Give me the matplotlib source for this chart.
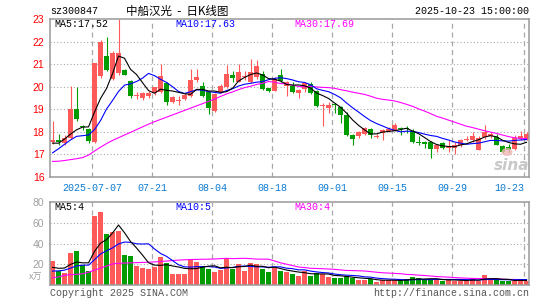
import matplotlib
matplotlib.use("Agg")
import numpy as np
from matplotlib import pyplot as plt
from matplotlib.patches import Ellipse

STOCK = "sz300847"
TITLE = "中船汉光 - 日K线图"
STAMP = "2025-10-23 15:00:00"

# daily candles, 2025-06-26 .. 2025-10-23
opens = [17.55, 17.62, 17.50, 17.75, 19.00, 18.28, 18.13, 17.55, 20.46, 21.34,
         20.34, 20.60, 20.72, 20.26, 19.58, 19.50, 19.57, 19.72, 19.75, 20.16,
         19.34, 19.38, 19.46, 19.60, 20.28, 20.01, 19.76, 18.94, 19.78, 19.97,
         20.53, 20.22, 20.44, 20.19, 20.41, 20.57, 19.93, 19.82, 20.51, 20.04,
         20.04, 19.72, 19.90, 20.12, 19.82, 19.13, 19.04, 19.20, 19.10, 18.76,
         17.88, 17.81, 17.91, 18.13, 17.79, 17.96, 18.06, 18.06, 18.15, 18.15,
         18.06, 17.53, 17.57, 17.54, 17.25, 17.51, 17.28, 17.29, 17.40, 17.62,
         17.62, 17.21, 17.76, 17.81, 17.76, 17.37, 17.32, 17.22, 17.69, 17.69]
highs = [18.50, 17.90, 17.85, 20.05, 20.00, 18.30, 18.15, 21.06, 22.05, 22.20,
         21.60, 23.00, 20.80, 20.30, 19.75, 19.75, 19.80, 20.00, 21.00, 20.20,
         19.60, 19.60, 19.70, 20.78, 20.78, 20.19, 19.80, 19.72, 20.10, 20.97,
         20.70, 21.00, 20.70, 21.22, 21.20, 20.70, 19.95, 20.45, 20.78, 20.25,
         20.20, 19.90, 20.20, 20.20, 19.85, 19.28, 19.31, 19.28, 19.16, 18.87,
         17.90, 18.06, 18.22, 18.15, 17.91, 18.13, 18.20, 18.38, 18.20, 18.25,
         18.13, 17.81, 17.60, 17.60, 17.45, 17.55, 17.62, 17.55, 17.70, 17.80,
         18.00, 17.80, 18.32, 18.00, 17.90, 17.40, 17.47, 17.85, 18.06, 18.00]
lows = [17.45, 17.42, 17.42, 17.70, 18.50, 18.08, 17.50, 17.50, 20.40, 20.70,
        20.30, 20.50, 20.50, 19.50, 19.45, 19.40, 19.50, 19.65, 19.70, 19.20,
        19.28, 19.20, 19.40, 19.55, 20.20, 19.55, 18.79, 18.87, 19.70, 19.95,
        20.20, 20.20, 20.30, 20.15, 20.35, 19.85, 19.75, 19.80, 20.20, 19.57,
        19.70, 19.49, 19.75, 19.68, 19.09, 18.28, 18.84, 18.84, 18.40, 17.80,
        17.43, 17.72, 17.88, 17.72, 17.72, 17.62, 18.00, 18.02, 17.87, 17.93,
        17.50, 17.40, 17.28, 16.84, 17.10, 17.22, 17.10, 17.03, 17.35, 17.60,
        17.55, 17.18, 17.70, 17.75, 17.40, 17.07, 17.06, 17.20, 17.65, 17.65]
closes = [17.62, 17.55, 17.75, 19.00, 18.55, 18.20, 17.58, 21.06, 22.00, 20.75,
          21.50, 21.50, 20.54, 19.57, 19.60, 19.70, 19.72, 19.97, 20.48, 19.34,
          19.56, 19.42, 19.65, 20.31, 20.44, 19.60, 19.04, 19.68, 20.01, 20.56,
          20.37, 20.63, 20.48, 20.66, 20.93, 19.90, 19.83, 20.34, 20.26, 20.19,
          19.75, 19.87, 20.15, 19.72, 19.13, 19.19, 19.19, 19.17, 18.76, 17.84,
          17.69, 17.99, 18.16, 17.87, 17.83, 18.10, 18.13, 18.31, 18.12, 18.12,
          17.54, 17.50, 17.46, 17.25, 17.43, 17.28, 17.35, 17.40, 17.62, 17.69,
          17.81, 17.72, 18.01, 17.91, 17.43, 17.10, 17.18, 17.72, 17.81, 17.91]
# volume, in 10k lots
volumes = [23.0, 13.6, 11.4, 30.7, 32.7, 19.3, 13.6, 66.0, 70.0, 49.5,
           51.0, 52.0, 29.0, 28.0, 18.6, 16.8, 15.8, 17.1, 27.2, 21.5,
           10.8, 10.8, 10.8, 25.0, 22.5, 17.7, 15.5, 13.0, 14.6, 25.7,
           15.5, 20.3, 13.9, 21.0, 20.0, 16.0, 13.0, 17.0, 14.0, 13.0,
           10.8, 8.9, 13.9, 8.9, 12.0, 10.8, 8.2, 7.3, 7.3, 8.9,
           7.3, 5.0, 5.0, 6.0, 3.5, 5.0, 5.0, 5.0, 4.5, 5.7,
           8.2, 6.7, 5.0, 5.7, 5.7, 4.5, 5.0, 4.5, 4.5, 4.5,
           6.7, 4.5, 9.8, 6.0, 5.0, 3.8, 3.8, 4.5, 6.5, 4.5]

ma5 = [17.50, 17.50, 17.68, 17.90, 18.09, 18.21, 18.22, 18.88, 19.48, 19.92,
       20.58, 21.36, 21.26, 20.77, 20.54, 20.18, 19.83, 19.71, 19.89, 19.84,
       19.81, 19.75, 19.69, 19.66, 19.88, 19.88, 19.81, 19.81, 19.75, 19.78,
       19.93, 20.25, 20.41, 20.54, 20.61, 20.52, 20.36, 20.33, 20.25, 20.10,
       20.07, 20.08, 20.04, 19.94, 19.72, 19.61, 19.48, 19.28, 19.09, 18.83,
       18.53, 18.29, 18.09, 17.91, 17.91, 17.99, 18.02, 18.05, 18.10, 18.16,
       18.04, 17.92, 17.75, 17.57, 17.44, 17.38, 17.35, 17.34, 17.42, 17.47,
       17.57, 17.65, 17.77, 17.83, 17.78, 17.63, 17.53, 17.47, 17.45, 17.54]
ma10 = [17.07, 17.25, 17.45, 17.64, 17.80, 17.83, 17.86, 18.10, 18.50, 19.01,
        19.39, 19.79, 20.07, 20.13, 20.23, 20.38, 20.59, 20.49, 20.33, 20.19,
        20.00, 19.79, 19.70, 19.78, 19.86, 19.85, 19.78, 19.75, 19.71, 19.83,
        19.91, 20.03, 20.11, 20.15, 20.20, 20.23, 20.31, 20.37, 20.40, 20.36,
        20.30, 20.22, 20.19, 20.09, 19.91, 19.84, 19.78, 19.66, 19.51, 19.28,
        19.07, 18.88, 18.68, 18.50, 18.37, 18.26, 18.15, 18.07, 18.00, 18.03,
        18.02, 17.97, 17.90, 17.84, 17.80, 17.71, 17.64, 17.55, 17.50, 17.45,
        17.48, 17.50, 17.56, 17.62, 17.62, 17.60, 17.59, 17.62, 17.64, 17.66]
ma30 = [16.69, 16.70, 16.73, 16.77, 16.81, 16.86, 16.97, 17.15, 17.32, 17.48,
        17.62, 17.74, 17.86, 17.98, 18.10, 18.22, 18.34, 18.45, 18.55, 18.65,
        18.75, 18.85, 18.95, 19.05, 19.15, 19.25, 19.35, 19.45, 19.57, 19.68,
        19.77, 19.87, 19.96, 20.02, 20.10, 20.15, 20.23, 20.20, 20.14, 20.13,
        20.07, 20.01, 20.00, 20.01, 19.99, 19.97, 19.96, 19.93, 19.87, 19.82,
        19.76, 19.71, 19.66, 19.58, 19.49, 19.44, 19.41, 19.37, 19.30, 19.22,
        19.13, 19.02, 18.92, 18.81, 18.69, 18.61, 18.52, 18.43, 18.34, 18.25,
        18.19, 18.12, 18.05, 17.99, 17.93, 17.86, 17.79, 17.74, 17.71, 17.71]

vol_ma5 = [17.1, 16.3, 16.5, 20.0, 22.3, 21.5, 21.5, 32.5, 40.3, 43.7,
           50.0, 57.7, 50.3, 41.9, 35.7, 28.9, 21.6, 19.3, 19.1, 19.7,
           18.5, 17.5, 16.2, 15.8, 16.0, 17.4, 18.3, 18.7, 16.7, 17.3,
           16.9, 17.8, 18.0, 19.3, 18.1, 18.2, 16.8, 17.4, 16.0, 14.6,
           13.6, 12.7, 12.1, 11.1, 10.9, 10.9, 10.8, 9.4, 9.1, 8.5,
           7.8, 7.2, 6.7, 6.4, 5.4, 4.9, 4.9, 4.9, 4.6, 5.0,
           5.7, 6.0, 6.0, 6.3, 6.3, 5.5, 5.2, 5.1, 4.8, 4.6,
           5.0, 4.9, 6.0, 6.3, 6.4, 5.8, 5.7, 4.6, 4.7, 4.6]
vol_ma10 = [13.6, 13.8, 14.5, 16.5, 18.5, 19.3, 19.3, 24.5, 30.0, 33.0,
            35.8, 39.6, 41.4, 41.1, 39.7, 39.5, 39.7, 34.8, 30.5, 27.7,
            23.7, 19.6, 17.7, 17.4, 17.8, 17.9, 17.9, 17.5, 16.2, 16.6,
            17.1, 18.1, 18.4, 18.0, 17.7, 17.6, 17.3, 17.7, 17.6, 16.4,
            15.9, 14.8, 14.8, 13.6, 12.8, 12.2, 11.8, 10.8, 10.1, 9.7,
            9.4, 9.0, 8.1, 7.8, 6.9, 6.4, 6.0, 5.8, 5.5, 5.2,
            5.3, 5.5, 5.5, 5.4, 5.7, 5.6, 5.6, 5.6, 5.6, 5.4,
            5.3, 5.1, 5.5, 5.6, 5.5, 5.4, 5.3, 5.3, 5.5, 5.5]
vol_ma30 = [7.3, 8.0, 9.5, 10.2, 10.5, 11.0, 12.5, 14.5, 16.5, 18.5,
            20.5, 21.0, 21.3, 21.5, 21.7, 21.9, 22.1, 22.4, 22.8, 23.2,
            23.7, 24.1, 24.4, 24.7, 24.8, 24.9, 25.0, 25.2, 25.5, 25.8,
            25.5, 25.7, 25.8, 25.5, 25.1, 25.0, 25.0, 23.3, 21.5, 20.2,
            18.9, 17.5, 17.0, 16.3, 16.1, 15.9, 15.6, 15.3, 14.7, 14.2,
            14.1, 13.9, 13.7, 13.1, 12.5, 12.0, 11.7, 11.4, 11.1, 10.4,
            10.2, 9.7, 9.4, 8.9, 8.4, 8.1, 7.8, 7.4, 7.1, 6.8,
            6.6, 6.5, 6.4, 6.3, 6.0, 5.8, 5.6, 5.6, 5.5, 5.4]

tick_idx = [7, 17, 27, 37, 47, 57, 67, 79]
tick_labels = ["2025-07-07", "07-21", "08-04", "08-18", "09-01", "09-15", "09-29", "10-23"]
price_ticks = [16, 17, 18, 19, 20, 21, 22, 23]
vol_ticks = [20, 40, 60, 80]

price_labels = ["MA5:17.52", "MA10:17.63", "MA30:17.69"]
vol_labels = ["MA5:4", "MA10:5", "MA30:4"]

RED = "#ff5a5a"
GREEN = "#009c00"
BLUE_TXT = "#0a7ad2"
GRID = "#a8a8a8"
FRAME = "#999999"
MONO = ["Liberation Mono", "DejaVu Sans Mono"]
CJK = ["Noto Sans CJK SC", "DejaVu Sans"]

W, H = 545, 300


def fx(px):
    return px / W


def fy(py):
    return 1 - py / H


fig = plt.figure(figsize=(W / 100, H / 100), dpi=100)
fig.patch.set_facecolor("white")
ax1 = fig.add_axes([fx(50), fy(177), fx(479), 158 / H])
ax2 = fig.add_axes([fx(50), fy(285.3), fx(479), 83.6 / H])

x = np.arange(len(closes))
o = np.array(opens)
c = np.array(closes)
hi = np.array(highs)
lo = np.array(lows)
colors = np.where(c >= o, RED, GREEN)
grid_x = [i - 0.4 for i in tick_idx]

for ax in (ax1, ax2):
    ax.set_xlim(-0.42, 79.41)
    for gx in grid_x:
        ax.axvline(gx, color=GRID, lw=0.9, ls=(0, (4, 3)), zorder=0)
    for s in ax.spines.values():
        s.set_color(FRAME)
        s.set_linewidth(1.1)
    ax.tick_params(length=0)

# price panel
ax1.set_ylim(16, 23)
for gy in price_ticks[1:-1]:
    ax1.axhline(gy, color=GRID, lw=0.8, ls=(0, (1, 2)), zorder=0)
ax1.vlines(x, lo, hi, colors=colors, linewidth=0.8, zorder=2)
body_lo = np.minimum(o, c)
body_h = np.maximum(np.abs(c - o), 0.045)
ax1.bar(x, body_h, bottom=body_lo, width=0.8, color=colors, linewidth=0, zorder=2)
ax1.plot(x, ma30, color="#ff00ff", lw=0.8, zorder=3)
ax1.plot(x, ma10, color="#0000ff", lw=0.8, zorder=3)
ax1.plot(x, ma5, color="black", lw=0.8, zorder=3)

ax1.set_yticks(price_ticks)
ax1.set_yticklabels([str(t) for t in price_ticks], color="red", fontsize=7.5,
                    family="Liberation Sans")
ax1.tick_params(axis="y", pad=4)
ax1.set_xticks(grid_x)
ax1.set_xticklabels(tick_labels, color=BLUE_TXT, fontsize=7.2, family=MONO)
ax1.tick_params(axis="x", pad=4)
ax1.get_xticklabels()[-1].set_horizontalalignment("right")

# volume panel
ax2.set_ylim(0, 80)
for gy in vol_ticks[:-1]:
    ax2.axhline(gy, color=GRID, lw=0.8, ls=(0, (1, 2)), zorder=0)
ax2.bar(x, volumes, width=0.8, color=colors, linewidth=0, zorder=2)
ax2.plot(x, vol_ma30, color="#ff00ff", lw=0.8, zorder=3)
ax2.plot(x, vol_ma10, color="#0000ff", lw=0.8, zorder=3)
ax2.plot(x, vol_ma5, color="black", lw=0.8, zorder=3)
ax2.set_yticks(vol_ticks)
ax2.set_yticklabels([str(t) for t in vol_ticks], color="#a0a0a0", fontsize=7.5,
                    family="Liberation Sans")
ax2.tick_params(axis="y", pad=4)
ax2.set_xticks(grid_x)
ax2.set_xticklabels([])

# header
fig.text(fx(50), fy(11.5), STOCK, fontsize=7.2, family=MONO, va="center", ha="left")
fig.text(fx(177), fy(11.5), TITLE.replace(" - ", "  -  "), fontsize=8.3, family=CJK,
         va="center", ha="center")
fig.text(fx(529), fy(11.5), STAMP, fontsize=7.2, family=MONO, va="center", ha="right")

ma_colors = ["black", "#0000ff", "#ff00ff"]
ma_x = [54, 175, 294]
for lab, col, px in zip(price_labels, ma_colors, ma_x):
    fig.text(fx(px), fy(24), lab, fontsize=7.2, family=MONO, color=col, va="center")
for lab, col, px in zip(vol_labels, ma_colors, ma_x):
    fig.text(fx(px), fy(206.5), lab, fontsize=7.2, family=MONO, color=col, va="center")

# footer
fig.text(fx(36), fy(277), "x万", fontsize=6.5, family=CJK,
         color="#a0a0a0", va="center", ha="center")
fig.text(fx(50), fy(292.5), "Copyright 2025 SINA.COM", fontsize=7.2, family=MONO,
         color="#555555", va="center", ha="left")
fig.text(fx(529), fy(292.5), "http://finance.sina.com.cn", fontsize=7.2, family=MONO,
         color="#555555", va="center", ha="right")

# sina watermark
fig.patches.append(Ellipse((fx(507), fy(152)), fx(11), 8 / H, transform=fig.transFigure,
                           facecolor="#f4b8b8", edgecolor="none", alpha=0.8))
fig.text(fx(512), fy(165), "sina", fontsize=11, fontweight="bold", fontstyle="italic",
         color="#c8c8c8", va="center", ha="center", family="DejaVu Sans")

fig.savefig("out.png", dpi=100)
